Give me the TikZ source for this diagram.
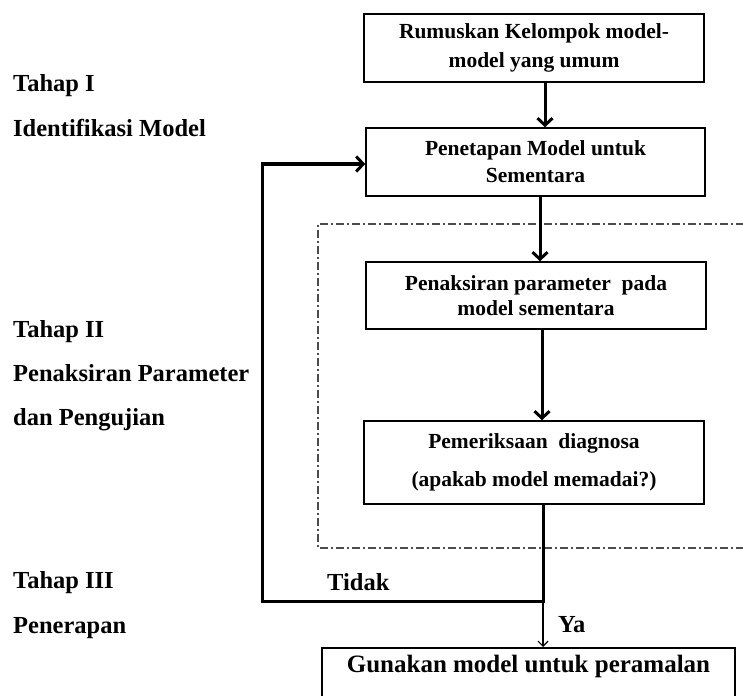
\documentclass[tikz,border=0pt]{standalone}
\usepackage{fontspec}
\setmainfont{Liberation Serif}
\usetikzlibrary{arrows.meta}
\begin{document}
\begin{tikzpicture}[x=1pt,y=-1pt,
  boxnode/.style={draw,line width=1.5pt,align=center,inner sep=0pt,font=\fontsize{21.5}{27}\selectfont\bfseries},
  flow/.style={line width=3pt,-{Straight Barb[length=7pt,width=15pt,line width=3pt]}},
  thinflow/.style={line width=1.2pt,-{Straight Barb[length=5pt,width=10pt,line width=1.2pt]}},
  lbl/.style={anchor=base west,inner sep=0pt,font=\fontsize{24.5}{28}\selectfont\bfseries},
  frame/.style={draw=black!70,line width=1.5pt,dash pattern=on 8pt off 3pt on 2pt off 3pt}
]
\useasboundingbox (0,0) rectangle (743,695);
\clip (0,0) rectangle (743,695);
\fill[white] (0,0) rectangle (743,695);
% dash-dot frame
\draw[frame] (760,224) -- (318,224) -- (318,548) -- (760,548);
% boxes
\node[boxnode,minimum width=340pt,minimum height=68pt] (b1) at (534,48)
  {Rumuskan Kelompok model-\\[2pt]model yang umum};
\node[boxnode,minimum width=339pt,minimum height=68pt] (b2) at (535.5,162)
  {Penetapan Model untuk\\Sementara};
\node[boxnode,minimum width=340pt,minimum height=67pt] (b3) at (536,295.5)
  {Penaksiran parameter\ \ pada\\[-2pt]model sementara};
\node[boxnode,minimum width=340pt,minimum height=83pt] (b4) at (534,462.5)
  {Pemeriksaan\ \ diagnosa\\[11pt](apakab model memadai?)};
\node[draw,line width=1.5pt,anchor=north,minimum width=413pt,inner xsep=0pt,inner ysep=8pt,
  text height=17pt,text depth=48pt,font=\fontsize{25}{30}\selectfont\bfseries] (b5) at (528.5,647)
  {Gunakan model untuk peramalan};
% coordinates
\coordinate (j) at (543,601);
\coordinate (lc) at (262,601);
\coordinate (tc) at (262,164);
% connectors
\draw[flow] (b1.south -| 545,0) -- (b2.north -| 545,0);
\draw[flow] (b2.south -| 540,0) -- (b3.north -| 540,0);
\draw[flow] (b3.south -| 542,0) -- (b4.north -| 542,0);
\draw[flow,line join=miter] (b4.south -| j) -- (j) -- (lc) -- (tc) -- (b2.west |- tc);
\draw[thinflow] (j) -- (b5.north -| j);
% labels
\node[lbl] (tidak) at (327,590) {Tidak};
\node[lbl] (ya) at (558,632) {Ya};
\node[lbl] (t1) at (13,92) {Tahap I};
\node[lbl] (t1b) at (13,137) {Identifikasi Model};
\node[lbl] (t2) at (13,337) {Tahap II};
\node[lbl] (t2b) at (13,381) {Penaksiran Parameter};
\node[lbl] (t2c) at (13,425) {dan Pengujian};
\node[lbl] (t3) at (13,588) {Tahap III};
\node[lbl] (t3b) at (13,633) {Penerapan};
\end{tikzpicture}
\end{document}
